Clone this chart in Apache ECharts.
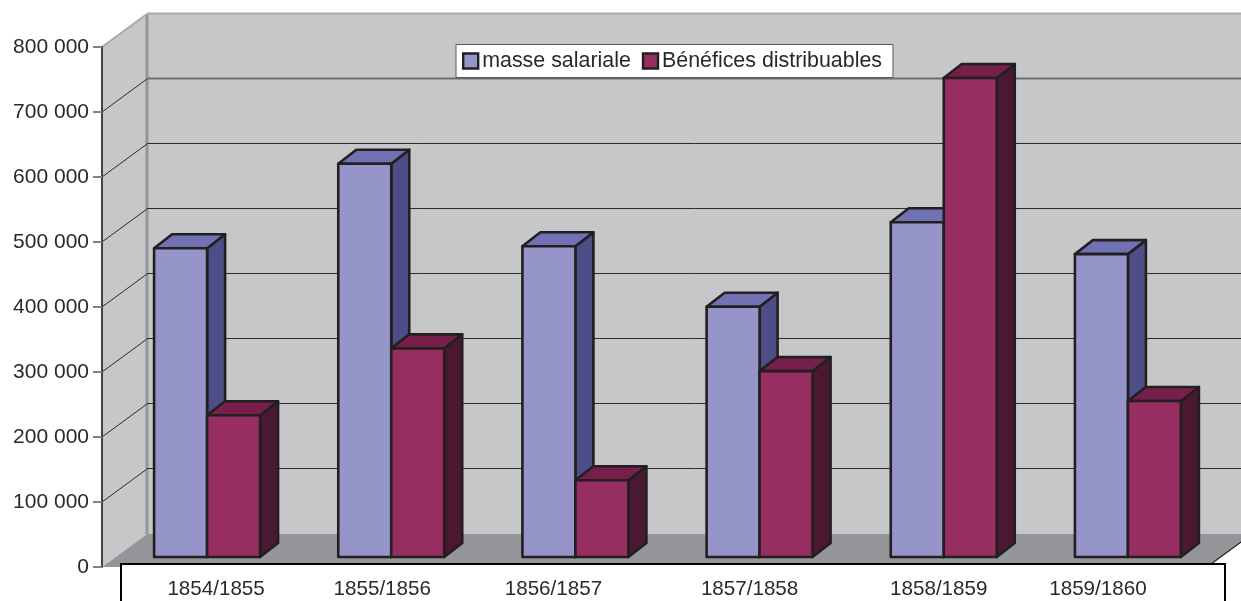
<!DOCTYPE html>
<html>
<head>
<meta charset="utf-8">
<style>
  html,body{margin:0;padding:0;background:#fff;}
  #chart{width:1241px;height:601px;}
</style>
<script src="https://cdn.jsdelivr.net/npm/echarts@6/dist/echarts.min.js"></script>
</head>
<body>
<div id="chart"></div>
<script>
let years = ['1854/1855','1855/1856','1856/1857','1857/1858','1858/1859','1859/1860'];
let masse = [475000,605000,478000,385000,515000,466000];
let benefices = [218000,321000,118000,286000,737000,240000];
let yTicks = [0,100000,200000,300000,400000,500000,600000,700000,800000];

// 3d look: how far the walls and the bars sit behind the axis plane
const WALL_DX = 45, WALL_DY = 33;
const BAR_DX = 13, BAR_DY = 10;
const CAP_DX = 18, CAP_DY = 14;
const OUTLINE = '#231f20';
const labelShift = [22,4,-9,3,8,-17];

let chart = echarts.init(document.getElementById('chart'));

function walls(params,api){
  let g = params.coordSys;
  let l = g.x, r = g.x + g.width, t = g.y, b = g.y + g.height;
  return {type:'group',children:[
    {type:'rect',shape:{x:l+WALL_DX,y:t-WALL_DY,width:g.width,height:g.height},style:{fill:'#c6c7c9'}},
    {type:'polygon',shape:{points:[[l,t],[l+WALL_DX,t-WALL_DY],[l+WALL_DX,b-WALL_DY],[l,b]]},style:{fill:'#c6c7c9'}},
    {type:'polygon',shape:{points:[[l,b],[l+WALL_DX,b-WALL_DY],[r+WALL_DX,b-WALL_DY],[r,b]]},style:{fill:'#939598'}},
    {type:'line',shape:{x1:r,y1:b,x2:r+WALL_DX,y2:b-WALL_DY},style:{stroke:OUTLINE,lineWidth:1.2}},
    {type:'line',shape:{x1:l+WALL_DX,y1:t-WALL_DY,x2:l+WALL_DX,y2:b-WALL_DY},style:{stroke:'#939598',lineWidth:3}}
  ]};
}

function gridLine(params,api){
  let v = api.value(1);
  if(v === 0) return;
  let g = params.coordSys;
  let y = api.coord([0,v])[1];
  let top = v === 800000, second = v === 700000;
  let by = y - WALL_DY - 0.5;
  let backStyle = {stroke:top?'#a7a9ac':second?'#6d6e71':'#2b2a29',lineWidth:top||second?2:1,fill:null};
  let sideStyle = {stroke:top?'#a7a9ac':'#2b2a29',lineWidth:top?2:1,fill:null};
  return {type:'group',children:[
    {type:'line',shape:{x1:g.x,y1:y,x2:g.x+WALL_DX,y2:y-WALL_DY},style:sideStyle},
    {type:'line',shape:{x1:g.x+WALL_DX,y1:by,x2:g.x+g.width+WALL_DX,y2:by},style:backStyle}
  ]};
}

// one box, side=-1 sits left of the band centre, side=0 right of it
function box(side,front,cap,dark){
  return function(params,api){
    let p = api.coord([api.value(0),api.value(1)]);
    let base = api.coord([api.value(0),0]);
    let w = api.size([1,0])[0] * 0.2877;
    let x0 = p[0] + BAR_DX + side * w, x1 = x0 + w;
    let y0 = p[1] - BAR_DY, y1 = base[1] - BAR_DY;
    let st = (c)=>({fill:c,stroke:OUTLINE,lineWidth:2.6,lineJoin:'round'});
    return {type:'group',children:[
      {type:'polygon',shape:{points:[[x1,y0],[x1+CAP_DX,y0-CAP_DY],[x1+CAP_DX,y1-CAP_DY],[x1,y1]]},style:st(dark)},
      {type:'polygon',shape:{points:[[x0,y0],[x0+CAP_DX,y0-CAP_DY],[x1+CAP_DX,y0-CAP_DY],[x1,y0]]},style:st(cap)},
      {type:'rect',shape:{x:x0,y:y0,width:w,height:y1-y0},style:st(front)}
    ]};
  };
}

let rich = {};
labelShift.forEach((s,i)=>{
  rich['s'+i] = {
    fontFamily:'Liberation Sans',fontSize:20.6,color:'#2b2a29',
    padding:s>=0?[0,0,0,s*2]:[0,-s*2,0,0]
  };
});

chart.setOption({
  animation:false,
  backgroundColor:'#fff',
  grid:{left:102,top:47,width:1105,height:520,containLabel:false},
  legend:{
    left:456,top:44.5,
    padding:[6,11,6,6],
    itemWidth:15,itemHeight:15,itemGap:11,
    backgroundColor:'#fff',borderColor:'#58595b',borderWidth:1,borderRadius:0,
    textStyle:{fontFamily:'Liberation Sans',fontSize:21.4,color:'#2b2a29',padding:[0,0,0,-1]},
    data:[
      {name:'masse salariale',icon:'rect',itemStyle:{color:'#9595c9',borderColor:OUTLINE,borderWidth:2.4}},
      {name:'Bénéfices distribuables',icon:'rect',itemStyle:{color:'#962e62',borderColor:OUTLINE,borderWidth:2.4}}
    ]
  },
  xAxis:{
    type:'category',data:years,z:10,
    axisLine:{show:false},axisTick:{show:false},
    axisLabel:{
      margin:12,interval:0,
      formatter:(v,i)=>`{s${i}|${v}}`,
      rich:rich
    }
  },
  yAxis:{
    type:'value',min:0,max:800000,interval:100000,z:5,
    splitLine:{show:false},
    axisLine:{show:true,lineStyle:{color:'#414042',width:2}},
    axisTick:{show:true,length:9,lineStyle:{color:'#808285',width:2}},
    axisLabel:{
      margin:13,padding:[2,0,0,0],fontFamily:'Liberation Sans',fontSize:21,color:'#2b2a29',
      formatter:(v)=>String(v).replace(/\B(?=(\d{3})+$)/g,' ')
    }
  },
  graphic:[
    {type:'rect',z:6,shape:{x:121,y:564,width:1104,height:60},style:{fill:'#fff',stroke:'#000',lineWidth:2}}
  ],
  series:[
    {type:'custom',z:1,silent:true,renderItem:walls,data:[[0,0]],encode:{x:0,y:1},clip:false},
    {type:'custom',z:2,silent:true,renderItem:gridLine,data:yTicks.map(v=>[0,v]),encode:{x:0,y:1},clip:false},
    {name:'masse salariale',type:'custom',z:3,renderItem:box(-1,'#9595c9','#7072b4','#4d4d87'),
      itemStyle:{color:'#9595c9'},data:masse.map((v,i)=>[i,v]),encode:{x:0,y:1},clip:false},
    {name:'Bénéfices distribuables',type:'custom',z:3,renderItem:box(0,'#962e62','#761f4a','#4b1832'),
      itemStyle:{color:'#962e62'},data:benefices.map((v,i)=>[i,v]),encode:{x:0,y:1},clip:false}
  ]
});
</script>
</body>
</html>
